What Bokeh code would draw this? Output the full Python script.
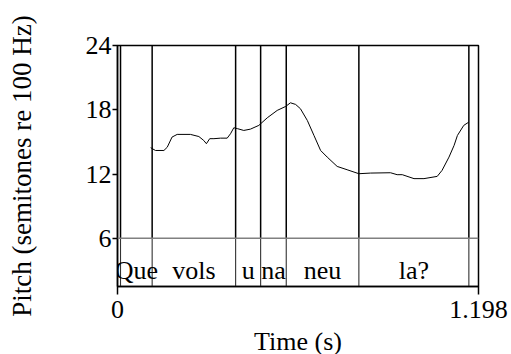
from bokeh.plotting import figure
from bokeh.models import Range1d, FixedTicker, Span
from bokeh.core.properties import value
from bokeh.embed import file_html
from bokeh.resources import INLINE

# ---- data ----
time_s = [0.110, 0.126, 0.154, 0.165, 0.181, 0.198, 0.242, 0.270, 0.286, 0.295,
          0.306, 0.320, 0.342, 0.364, 0.375, 0.386, 0.399, 0.419, 0.441, 0.469,
          0.497, 0.530, 0.558, 0.574, 0.591, 0.607, 0.630, 0.652, 0.674, 0.696,
          0.729, 0.762, 0.801, 0.840, 0.906, 0.928, 0.945, 0.984, 1.017, 1.061,
          1.077, 1.100, 1.117, 1.128, 1.149, 1.166]
pitch_st = [14.46, 14.2, 14.2, 14.5, 15.45, 15.7, 15.7, 15.5, 15.14, 14.83,
            15.3, 15.3, 15.35, 15.35, 15.76, 16.32, 16.23, 16.07, 16.19, 16.54,
            17.25, 17.94, 18.31, 18.65, 18.5, 18.1, 17.0, 15.6, 14.2, 13.58,
            12.71, 12.4, 12.03, 12.09, 12.12, 11.94, 11.94, 11.57, 11.57, 11.78,
            12.34, 13.58, 14.67, 15.6, 16.54, 16.85]
boundaries = [0.01, 0.115, 0.392, 0.475, 0.560, 0.801, 1.166]
words = ["Que", "vols", "u", "na", "neu", "la?"]
word_start = [0.01, 0.115, 0.392, 0.475, 0.560, 0.801]
word_end = [0.115, 0.392, 0.475, 0.560, 0.801, 1.166]
x_ticks = [0, 1.198]
y_ticks = [6, 12, 18, 24]
t_max = 1.198
y_min, y_max = 1.5, 24
tier_top = 6

FONT = "Liberation Serif"

p = figure(output_backend="svg", toolbar_location=None,
           frame_width=361, frame_height=241,
           min_border_left=117, min_border_right=33,
           min_border_top=45, min_border_bottom=68,
           x_range=Range1d(0, t_max), y_range=Range1d(y_min, y_max))
p.background_fill_color = "white"
p.border_fill_color = "white"
p.grid.visible = False
p.outline_line_color = "black"
p.outline_line_width = 1.5

for ax in (p.xaxis[0], p.yaxis[0]):
    ax.axis_line_color = "black"
    ax.axis_line_width = 1.5
    ax.major_tick_line_color = "black"
    ax.major_tick_line_width = 1.5
    ax.major_tick_in = 0
    ax.minor_tick_line_color = None
    ax.major_label_text_font = FONT
    ax.major_label_text_font_size = "26px"
    ax.major_label_text_color = "black"
    ax.axis_label_text_font = FONT
    ax.axis_label_text_font_style = "normal"
    ax.axis_label_text_color = "black"

p.xaxis.ticker = FixedTicker(ticks=x_ticks)
p.xaxis.major_label_overrides = {0: "0", 1.198: "1.198"}
p.xaxis.major_tick_out = 8
p.xaxis.major_label_standoff = 6
p.xaxis.axis_label = "Time (s)"
p.xaxis.axis_label_text_font_size = "26px"
p.xaxis.axis_label_standoff = 6

p.yaxis.ticker = FixedTicker(ticks=y_ticks)
p.yaxis.major_tick_out = 5
p.yaxis.major_label_standoff = 1
p.yaxis.axis_label = "Pitch (semitones re 100 Hz)"
p.yaxis.axis_label_text_font_size = "27px"
p.yaxis.axis_label_standoff = 46

# tier separator
p.add_layout(Span(location=tier_top, dimension="width", line_color="#808080", line_width=1.5))

# boundaries
n = len(boundaries)
p.segment(x0=boundaries, y0=[tier_top] * n, x1=boundaries, y1=[y_max] * n,
          line_color="black", line_width=1.5)
p.segment(x0=boundaries, y0=[y_min] * n, x1=boundaries, y1=[tier_top] * n,
          line_color="#333333", line_width=1.1)

# pitch contour
p.line(time_s, pitch_st, line_color="black", line_width=1)

# tier words
mids = [(a + b) / 2 for a, b in zip(word_start, word_end)]
p.text(x=mids, y=[3.0] * len(mids), text=words, text_font=value(FONT),
       text_font_size="26px", text_align="center", text_baseline="alphabetic",
       text_color="black")

open("out.html", "w").write(file_html(p, INLINE))
